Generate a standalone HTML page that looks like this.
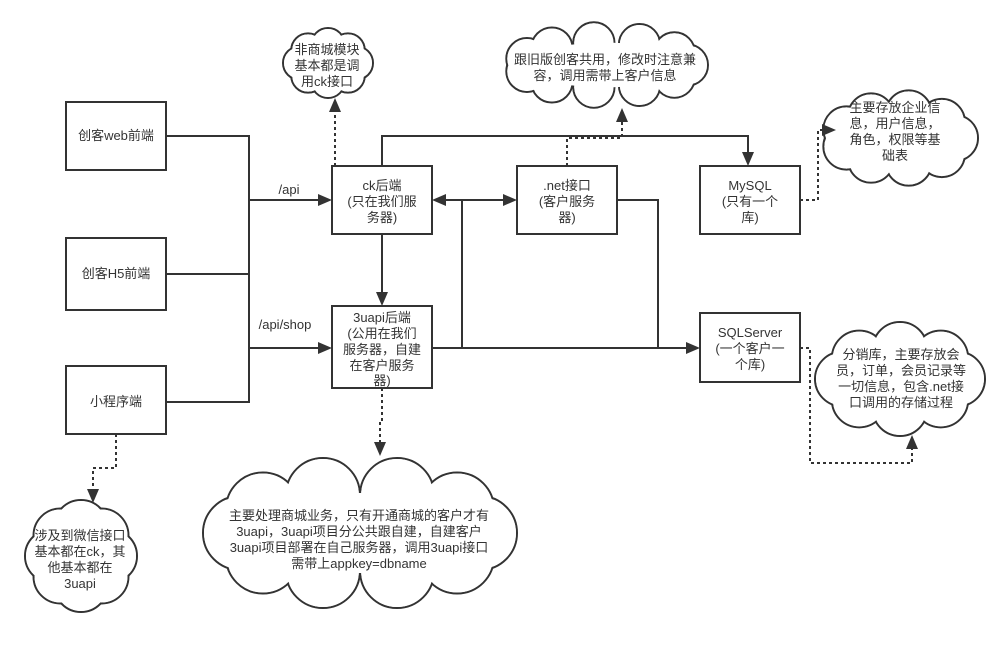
<!DOCTYPE html>
<html><head><meta charset="utf-8"><style>
html,body{margin:0;padding:0;background:#fff;}
svg{display:block;}
text{font-family:"Liberation Sans","Noto Sans CJK SC",sans-serif;font-size:13px;fill:#333;text-anchor:middle;}
.b{fill:#fff;stroke:#333;stroke-width:2;}
.l{fill:none;stroke:#333;stroke-width:2;}
.d{fill:none;stroke:#333;stroke-width:2;stroke-dasharray:3 3;}
.a{fill:#333;}
</style></head><body>
<svg id="s" width="1006" height="645" viewBox="0 0 1006 645" xmlns="http://www.w3.org/2000/svg">
<g id="clouds"></g>
<rect class="b" x="66" y="102" width="100" height="68"/>
<rect class="b" x="66" y="238" width="100" height="72"/>
<rect class="b" x="66" y="366" width="100" height="68"/>
<rect class="b" x="332" y="166" width="100" height="68"/>
<rect class="b" x="517" y="166" width="100" height="68"/>
<rect class="b" x="332" y="306" width="100" height="82"/>
<rect class="b" x="700" y="166" width="100" height="68"/>
<rect class="b" x="700" y="313" width="100" height="69"/>
<path class="l" d="M166 136H249V402H166M166 274H249M249 200H322M249 348H322"/>
<path class="l" d="M382 234V296M432 348H690M462 348V200H442M462 200H507M617 200H658V348"/>
<path class="l" d="M382 166V136H748V156"/>
<polygon class="a" points="332,200 318,194 318,206"/>
<polygon class="a" points="332,348 318,342 318,354"/>
<polygon class="a" points="382,306 376,292 388,292"/>
<polygon class="a" points="432,200 446,194 446,206"/>
<polygon class="a" points="517,200 503,194 503,206"/>
<polygon class="a" points="700,348 686,342 686,354"/>
<polygon class="a" points="748,166 742,152 754,152"/>
<path class="d" d="M335 166V112"/>
<polygon class="a" points="335,98 329,112 341,112"/>
<path class="d" d="M567 166V138H622V122"/>
<polygon class="a" points="622,108 616,122 628,122"/>
<path class="d" d="M800 200H818V130H822"/>
<polygon class="a" points="836,130 822,124 822,136"/>
<path class="d" d="M800 348H810V463H912V449"/>
<polygon class="a" points="912,435 906,449 918,449"/>
<path class="d" d="M382 388V422H380V442"/>
<polygon class="a" points="380,456 374,442 386,442"/>
<path class="d" d="M116 434V468H93V489"/>
<polygon class="a" points="93,503 87,489 99,489"/>
<text x="116" y="140">创客web前端</text>
<text x="116" y="278">创客H5前端</text>
<text x="116" y="406">小程序端</text>
<text x="382" y="190">ck后端</text><text x="382" y="206">(只在我们服</text><text x="382" y="222">务器)</text>
<text x="567" y="190">.net接口</text><text x="567" y="206">(客户服务</text><text x="567" y="222">器)</text>
<text x="382" y="322">3uapi后端</text><text x="382" y="338">(公用在我们</text><text x="382" y="354">服务器，自建</text><text x="382" y="370">在客户服务</text><text x="382" y="385">器)</text>
<text x="750" y="190">MySQL</text><text x="750" y="206">(只有一个</text><text x="750" y="222">库)</text>
<text x="750" y="337">SQLServer</text><text x="750" y="353">(一个客户一</text><text x="750" y="369">个库)</text>
<text x="289" y="194">/api</text>
<text x="285" y="329">/api/shop</text>
<g>
<text x="327" y="54">非商城模块</text><text x="327" y="70">基本都是调</text><text x="327" y="86">用ck接口</text>
<text x="605" y="64">跟旧版创客共用，修改时注意兼</text><text x="605" y="80">容，调用需带上客户信息</text>
<text x="895" y="112">主要存放企业信</text><text x="895" y="128">息，用户信息，</text><text x="895" y="144">角色，权限等基</text><text x="895" y="160">础表</text>
<text x="901" y="359">分销库，主要存放会</text><text x="901" y="375">员，订单，会员记录等</text><text x="901" y="391">一切信息，包含.net接</text><text x="901" y="407">口调用的存储过程</text>
<text x="359" y="520">主要处理商城业务，只有开通商城的客户才有</text><text x="359" y="536">3uapi，3uapi项目分公共跟自建，自建客户</text><text x="359" y="552">3uapi项目部署在自己服务器，调用3uapi接口</text><text x="359" y="568">需带上appkey=dbname</text>
<text x="80" y="540">涉及到微信接口</text><text x="80" y="556">基本都在ck，其</text><text x="80" y="572">他基本都在</text><text x="80" y="588">3uapi</text>
</g>
</svg>
<script>
(function(){
var g=document.getElementById('clouds');var NS='http://www.w3.org/2000/svg';
function cloud(x,y,w,h){
 var cx=x+w/2,cy=y+h/2;var r=Math.min(w,h)*0.24;var n=Math.max(8,Math.round((w+h)/(r*1.25)));
 var pts=[];for(var i=0;i<n;i++){var t=i/n*2*Math.PI;pts.push([cx+(w/2-r)*Math.cos(t),cy+(h/2-r)*Math.sin(t)]);}
 var grp=document.createElementNS(NS,'g');
 pts.forEach(function(p){var c=document.createElementNS(NS,'circle');c.setAttribute('cx',p[0]);c.setAttribute('cy',p[1]);c.setAttribute('r',r);c.setAttribute('fill','#fff');c.setAttribute('stroke','#333');c.setAttribute('stroke-width','2');grp.appendChild(c);});
 pts.forEach(function(p){var c=document.createElementNS(NS,'circle');c.setAttribute('cx',p[0]);c.setAttribute('cy',p[1]);c.setAttribute('r',r-1);c.setAttribute('fill','#fff');grp.appendChild(c);});
 var e=document.createElementNS(NS,'ellipse');e.setAttribute('cx',cx);e.setAttribute('cy',cy);e.setAttribute('rx',w/2-r);e.setAttribute('ry',h/2-r);e.setAttribute('fill','#fff');grp.appendChild(e);
 g.appendChild(grp);
}
cloud(283,28,90,70);
cloud(503,22,205,86);
cloud(820,90,158,96);
cloud(815,322,170,114);
cloud(203,456,314,154);
cloud(25,500,112,112);
})();
</script>
</body></html>
